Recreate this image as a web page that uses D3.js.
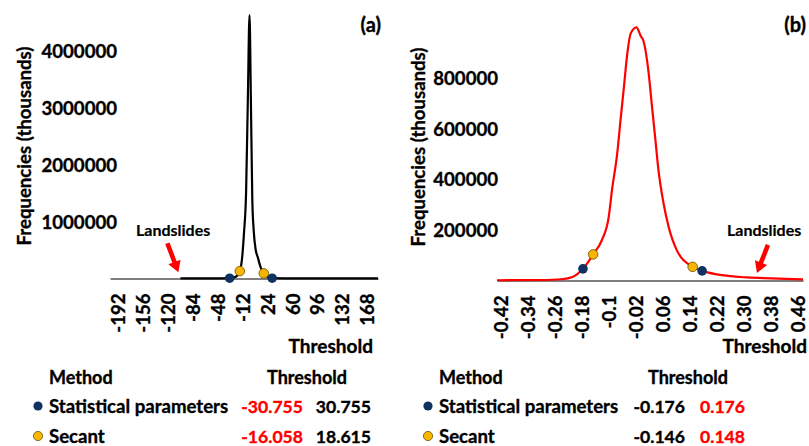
<!DOCTYPE html>
<html>
<head>
<meta charset="utf-8">
<script src="https://cdn.jsdelivr.net/npm/d3@7"></script>
<style>
  html, body { margin: 0; padding: 0; background: #fff; }
  svg { display: block; }
  text { font-family: Lato, "Open Sans", sans-serif; font-weight: 700; fill: #000; stroke: #000; stroke-width: 0.35px; }
  text.red { fill: #ff0000; stroke: #ff0000; }
</style>
</head>
<body>
<svg id="chart" width="809" height="446"></svg>
<script>
// ---- Panel (a): frequency curve of the threshold distribution ----
const thresholdA = [-102, -60, -30.755, -22, -16.058, -13, -10, -7, -4.5, -2, 0, 2, 4, 7, 10, 14, 18.615, 24, 30.755, 60, 120, 184];
const freqA      = [2000, 3000, 5000, 30000, 130000, 330000, 800000, 1500000, 3100000, 4620000, 3100000, 1400000, 850000, 500000, 370000, 200000, 90000, 30000, 5000, 3000, 2000, 1500];
const xTicksA = [-192, -156, -120, -84, -48, -12, 24, 60, 96, 132, 168];
const yTicksA = [1000000, 2000000, 3000000, 4000000];

// ---- Panel (b): frequency curve ----
const thresholdB = [-0.43, -0.30, -0.24, -0.205, -0.176, -0.146, -0.12, -0.10, -0.09, -0.075, -0.065, -0.055, -0.045, -0.035, -0.018, -0.005, 0.002, 0.017, 0.027, 0.037, 0.047, 0.062, 0.077, 0.101, 0.148, 0.176, 0.22, 0.31, 0.38, 0.474];
const freqB      = [1000, 2000, 5000, 15000, 46000, 103000, 160000, 250000, 360000, 500000, 634000, 765000, 897000, 976000, 1000000, 965000, 949000, 831000, 700000, 568000, 436000, 305000, 212000, 120000, 54000, 38000, 24000, 12000, 8700, 4700];
const xTicksB = [-0.42, -0.34, -0.26, -0.18, -0.1, -0.02, 0.06, 0.14, 0.22, 0.30, 0.38, 0.46];
const xTickLabelsB = ["-0.42", "-0.34", "-0.26", "-0.18", "-0.1", "-0.02", "0.06", "0.14", "0.22", "0.30", "0.38", "0.46"];
const yTicksB = [200000, 400000, 600000, 800000];

// ---- Threshold table ----
const methods = ["Statistical parameters", "Secant"];
const methodColors = ["#0f3260", "#f7b500"];
const lowA  = [-30.755, -16.058];
const highA = [30.755, 18.615];
const lowB  = [-0.176, -0.146];
const highB = [0.176, 0.148];

const svg = d3.select("#chart");
svg.append("rect").attr("width", 809).attr("height", 446).attr("fill", "#fff");

// plain hyphen for negatives, three decimals
const fmt3 = v => d3.format(".3f")(v).replace("\u2212", "-");

// linear interpolation along a curve, to sit threshold markers on it
function freqAt(xs, ys, v) {
  const i = d3.bisectLeft(xs, v);
  if (i <= 0) return ys[0];
  if (i >= xs.length) return ys[ys.length - 1];
  const t = (v - xs[i - 1]) / (xs[i] - xs[i - 1]);
  return ys[i - 1] + t * (ys[i] - ys[i - 1]);
}

function drawPanel(cfg) {
  const g = svg.append("g");
  const x = d3.scaleLinear().domain(cfg.xDomain).range(cfg.xRange);
  const y = d3.scaleLinear().domain(cfg.yDomain).range(cfg.yRange);

  // y tick labels (no axis line)
  const yAxis = d3.axisLeft(y).tickValues(cfg.yTicks).tickSize(0).tickPadding(0).tickFormat(d3.format("d"));
  const ya = g.append("g").attr("transform", `translate(${cfg.yLabelX},0)`).call(yAxis);
  ya.select(".domain").remove();
  ya.selectAll("text").attr("font-size", 18.6).attr("font-family", null).attr("dy", "0.35em");

  // x axis: baseline plus rotated labels
  const xAxis = d3.axisBottom(x).tickValues(cfg.xTicks).tickSize(0).tickPadding(0)
    .tickFormat((d, i) => cfg.xTickLabels[i]);
  const xa = g.append("g").attr("transform", `translate(0,${y(0)})`).call(xAxis);
  xa.select(".domain").attr("stroke", "#000").attr("stroke-width", 1.2);
  xa.selectAll("text")
    .attr("font-size", 18.6).attr("font-family", null)
    .attr("text-anchor", "end")
    .attr("y", 0).attr("dy", "0.36em")
    .attr("transform", "translate(0,15) rotate(-90)");

  // the frequency curve
  const pts = cfg.xs.map((v, i) => [v, cfg.ys[i]]);
  g.append("path")
    .datum(pts)
    .attr("fill", "none")
    .attr("stroke", cfg.lineColor)
    .attr("stroke-width", 2.2)
    .attr("stroke-linejoin", "round")
    .attr("d", d3.line().x(d => x(d[0])).y(d => y(d[1])).curve(d3.curveMonotoneX));

  // threshold markers on the curve
  methods.forEach((m, i) => {
    [cfg.low[i], cfg.high[i]].forEach(v => {
      g.append("circle")
        .attr("cx", x(v))
        .attr("cy", y(freqAt(cfg.xs, cfg.ys, v)))
        .attr("r", 4.8)
        .attr("fill", methodColors[i])
        .attr("stroke", i === 1 ? "#6b5000" : "none")
        .attr("stroke-width", 0.8);
    });
  });

  // axis titles and panel letter
  g.append("text")
    .attr("transform", `translate(${cfg.yTitleX},${cfg.yTitleY}) rotate(-90)`)
    .attr("text-anchor", "middle")
    .attr("font-size", 18.6)
    .text("Frequencies (thousands)");
  g.append("text")
    .attr("x", cfg.xTitleX).attr("y", 353)
    .attr("text-anchor", "end")
    .attr("font-size", 19)
    .text("Threshold");
  g.append("text")
    .attr("x", cfg.letterX).attr("y", 32)
    .attr("text-anchor", "end")
    .attr("font-size", 20)
    .text(cfg.letter);

  // "Landslides" annotation with arrow
  const tipX = x(cfg.arrowAt[0]), tipY = y(cfg.arrowAt[1]);
  const tailX = tipX + cfg.arrowDir[0], tailY = tipY + cfg.arrowDir[1];
  const ang = Math.atan2(tipY - tailY, tipX - tailX);
  const len = Math.hypot(tipX - tailX, tipY - tailY);
  const headL = 11, headW = 6.5, stemW = 2.3;
  const ag = g.append("g").attr("transform", `translate(${tailX},${tailY}) rotate(${ang * 180 / Math.PI})`);
  ag.append("path")
    .attr("d", `M0,${-stemW} L${len - headL},${-stemW} L${len - headL},${-headW} L${len},0 L${len - headL},${headW} L${len - headL},${stemW} L0,${stemW} Z`)
    .attr("fill", "#ff0000");
  g.append("text")
    .attr("x", cfg.labelX).attr("y", 236)
    .attr("font-size", 16)
    .style("stroke-width", "0.2px")
    .text("Landslides");

  // threshold table under the panel
  const t = svg.append("g");
  t.append("text").attr("x", cfg.tableX).attr("y", 384).attr("font-size", 18).text("Method");
  t.append("text").attr("x", cfg.headX).attr("y", 384).attr("font-size", 18).text("Threshold");
  methods.forEach((m, i) => {
    const ry = 406 + i * 30;
    t.append("circle").attr("cx", cfg.tableX - 11).attr("cy", ry).attr("r", 4.6)
      .attr("fill", methodColors[i])
      .attr("stroke", i === 1 ? "#6b5000" : "none").attr("stroke-width", 0.8);
    t.append("text").attr("x", cfg.tableX).attr("y", ry + 6.5).attr("font-size", 18.6).text(m);
    t.append("text").attr("x", cfg.lowX).attr("y", ry + 6.5).attr("font-size", 17.6)
      .attr("text-anchor", "end").attr("class", cfg.lowRed ? "red" : null).text(fmt3(cfg.low[i]));
    t.append("text").attr("x", cfg.highX).attr("y", ry + 6.5).attr("font-size", 17.6)
      .attr("text-anchor", "end").attr("class", cfg.lowRed ? null : "red").text(fmt3(cfg.high[i]));
  });
}

drawPanel({
  xs: thresholdA, ys: freqA, lineColor: "#000",
  xDomain: [-204, 184], xRange: [110, 378],
  yDomain: [0, 5000000], yRange: [278.5, -6.5],
  xTicks: xTicksA, xTickLabels: xTicksA.map(String), yTicks: yTicksA,
  yLabelX: 117, yTitleX: 31, yTitleY: 146, xTitleX: 373,
  letter: "(a)", letterX: 381,
  arrowAt: [-105, 110000], arrowDir: [-11, -29], labelX: 136,
  low: lowA, high: highA,
  tableX: 49, headX: 267, lowX: 303, highX: 371,
  lowRed: true
});

drawPanel({
  xs: thresholdB, ys: freqB, lineColor: "#ff0000",
  xDomain: [-0.43, 0.474], xRange: [497, 803],
  yDomain: [0, 1100000], yRange: [280.5, 2],
  xTicks: xTicksB, xTickLabels: xTickLabelsB, yTicks: yTicksB,
  yLabelX: 498, yTitleX: 425, yTitleY: 147, xTitleX: 807,
  letter: "(b)", letterX: 806,
  arrowAt: [0.338, 30000], arrowDir: [11, -28], labelX: 727,
  low: lowB, high: highB,
  tableX: 439, headX: 648, lowX: 685, highX: 745,
  lowRed: false
});
</script>
</body>
</html>
